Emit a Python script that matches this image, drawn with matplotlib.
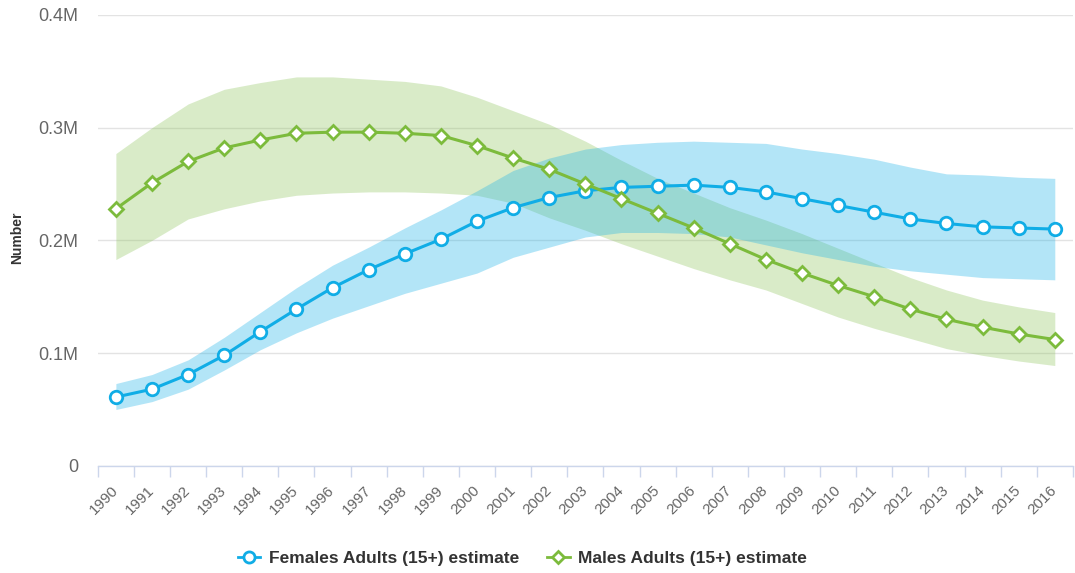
import numpy as np
import matplotlib
matplotlib.use('Agg')
import matplotlib.pyplot as plt
from matplotlib.lines import Line2D
from matplotlib.ticker import FixedLocator, FuncFormatter

years = [str(y) for y in range(1990, 2017)]

# Females Adults (15+) estimate, millions
fem = [0.061, 0.068, 0.081, 0.098, 0.119, 0.139, 0.158, 0.174, 0.188, 0.201,
       0.217, 0.229, 0.238, 0.244, 0.247, 0.248, 0.249, 0.247, 0.243, 0.237,
       0.231, 0.225, 0.219, 0.215, 0.212, 0.211, 0.210]
fem_hi = [0.073, 0.081, 0.094, 0.114, 0.136, 0.158, 0.178, 0.194, 0.211, 0.227,
          0.244, 0.262, 0.273, 0.281, 0.285, 0.287, 0.288, 0.287, 0.286, 0.281,
          0.277, 0.272, 0.265, 0.259, 0.258, 0.256, 0.255]
fem_lo = [0.050, 0.057, 0.068, 0.085, 0.103, 0.118, 0.131, 0.142, 0.153, 0.162,
          0.171, 0.185, 0.194, 0.203, 0.207, 0.207, 0.206, 0.203, 0.196, 0.189,
          0.183, 0.177, 0.173, 0.170, 0.167, 0.166, 0.165]

# Males Adults (15+) estimate, millions
male = [0.228, 0.251, 0.270, 0.282, 0.289, 0.295, 0.296, 0.296, 0.295, 0.293,
        0.284, 0.273, 0.263, 0.250, 0.237, 0.224, 0.211, 0.197, 0.183, 0.171,
        0.160, 0.150, 0.139, 0.130, 0.123, 0.117, 0.112]
male_hi = [0.277, 0.300, 0.321, 0.334, 0.340, 0.345, 0.345, 0.343, 0.341, 0.337,
           0.327, 0.315, 0.303, 0.288, 0.271, 0.255, 0.242, 0.229, 0.218, 0.206,
           0.193, 0.180, 0.167, 0.156, 0.147, 0.141, 0.136]
male_lo = [0.183, 0.200, 0.219, 0.228, 0.235, 0.240, 0.242, 0.243, 0.243, 0.242,
           0.240, 0.233, 0.220, 0.209, 0.197, 0.186, 0.175, 0.165, 0.156, 0.144,
           0.132, 0.122, 0.113, 0.104, 0.098, 0.093, 0.089]

blue = '#10ade6'
green = '#7cbb3c'

plt.rcParams['font.family'] = ['Liberation Sans', 'DejaVu Sans']

fig = plt.figure(figsize=(10.75, 5.73), dpi=100)
ax = fig.add_axes([0.091, 0.187, 0.907, 0.787])

x = np.arange(len(years))
ax.fill_between(x, male_lo, male_hi, color='#8cc45a', alpha=0.33, lw=0, zorder=1)
ax.fill_between(x, fem_lo, fem_hi, color='#1ab2e8', alpha=0.33, lw=0, zorder=2)

ax.plot(x, fem, color=blue, lw=2.2, marker='o', ms=9, mfc='white', mec=blue, mew=2, zorder=4)
ax.plot(x, male, color=green, lw=2.2, marker='D', ms=7, mfc='white', mec=green, mew=2, zorder=5)

ax.set_xlim(-0.5, len(years) - 0.5)
ax.set_ylim(0, 0.4)
ax.set_yticks([0, 0.1, 0.2, 0.3, 0.4])
ax.yaxis.set_major_formatter(FuncFormatter(lambda v, p: '0' if v == 0 else '%.1fM' % v))
ax.grid(axis='y', color='#e3e3e3', lw=1)
ax.set_axisbelow(True)

ax.set_xticks(x)
ax.set_xticklabels(years, rotation=45, ha='right', va='center', rotation_mode='anchor')
ax.xaxis.set_minor_locator(FixedLocator(np.arange(-0.5, len(years), 1)))
ax.tick_params(axis='x', which='major', length=0, pad=16, labelsize=11, labelcolor='#666666')
ax.tick_params(axis='x', which='minor', length=8, width=1, color='#ccd6eb')
ax.tick_params(axis='y', length=0, pad=14, labelsize=13, labelcolor='#666666')

for s in ['top', 'right', 'left']:
    ax.spines[s].set_visible(False)
ax.spines['bottom'].set_color('#ccd6eb')
ax.spines['bottom'].set_linewidth(1)

fig.text(0.016, 1 - 238 / 573, 'Number', rotation=90, fontsize=10, fontweight='bold',
         color='#333333', ha='center', va='center')

handles = [
    Line2D([], [], color=blue, lw=2, marker='o', ms=8, mfc='white', mec=blue, mew=2),
    Line2D([], [], color=green, lw=2, marker='D', ms=6.5, mfc='white', mec=green, mew=2),
]
fig.legend(handles, ['Females Adults (15+) estimate', 'Males Adults (15+) estimate'],
           loc='center', bbox_to_anchor=(0.486, 0.026), ncol=2, frameon=False,
           handlelength=1.3, columnspacing=1.6, handletextpad=0.5,
           prop={'weight': 'bold', 'size': 12.5}, labelcolor='#333333')

fig.savefig('out.png', dpi=100)
